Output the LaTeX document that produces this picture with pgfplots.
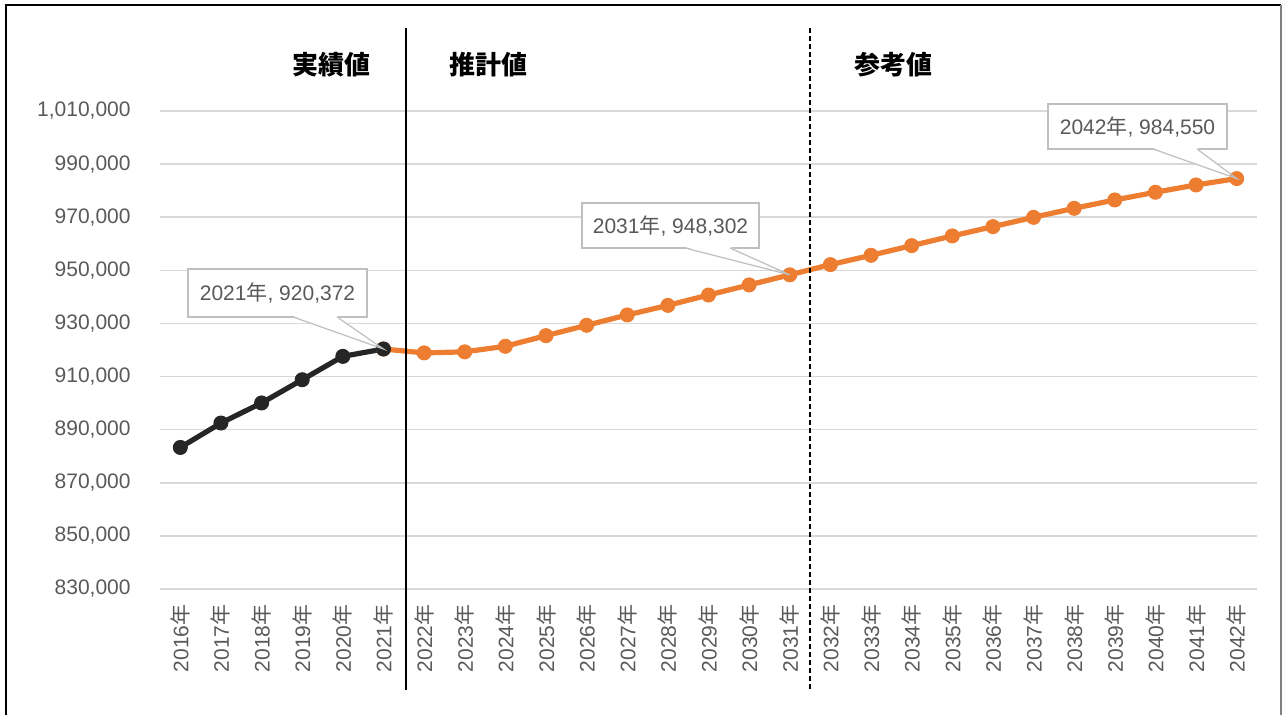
\documentclass[border=0pt]{standalone}
\usepackage{fontspec}
\setmainfont{Liberation Sans}
\newfontfamily\cjk{Noto Sans CJK JP}
\usepackage{pgfplots}
\pgfplotsset{compat=1.18}
\usetikzlibrary{calc}
\definecolor{actual}{HTML}{262626}
\definecolor{forecast}{HTML}{ED7D31}
\definecolor{txtgray}{HTML}{595959}
\definecolor{gridgray}{HTML}{D9D9D9}
\definecolor{callout}{HTML}{BFBFBF}
\newcommand{\nen}{{\cjk 年}}
\newcommand{\lblfont}{\fontsize{10.5}{12}\selectfont}

\begin{document}
\begin{tikzpicture}
\path[use as bounding box] (0,0) rectangle (641.5pt,357.5pt);
\begin{axis}[
  at={(80pt,63pt)}, anchor=south west,
  scale only axis, width=548.5pt, height=239pt,
  xmin=2015.5, xmax=2042.5,
  ymin=830000, ymax=1010000,
  xtick={2016,2017,2018,2019,2020,2021,2022,2023,2024,2025,2026,2027,2028,2029,
         2030,2031,2032,2033,2034,2035,2036,2037,2038,2039,2040,2041,2042},
  xticklabels={2016\nen,2017\nen,2018\nen,2019\nen,2020\nen,2021\nen,2022\nen,
    2023\nen,2024\nen,2025\nen,2026\nen,2027\nen,2028\nen,2029\nen,2030\nen,
    2031\nen,2032\nen,2033\nen,2034\nen,2035\nen,2036\nen,2037\nen,2038\nen,
    2039\nen,2040\nen,2041\nen,2042\nen},
  ytick={830000,850000,870000,890000,910000,930000,950000,970000,990000,1010000},
  yticklabels={{830,000},{850,000},{870,000},{890,000},{910,000},{930,000},
    {950,000},{970,000},{990,000},{1,010,000}},
  scaled y ticks=false,
  axis line style={draw=none},
  major tick length=0pt,
  ymajorgrids,
  major grid style={gridgray, line width=0.75pt},
  clip=false,
  yticklabel style={font=\lblfont, text=txtgray, anchor=east, inner ysep=0pt, inner xsep=14.5pt},
  xticklabel style={font=\lblfont, text=txtgray, rotate=90, anchor=east, inner ysep=0pt, inner xsep=7.5pt},
]
\addplot[forecast, line width=2.6pt, mark=*, mark size=3.5pt,
  mark options={line width=0.5pt, fill=forecast, draw=forecast}] coordinates {
  (2021,920372) (2022,918900) (2023,919300) (2024,921400) (2025,925400)
  (2026,929300) (2027,933200) (2028,936800) (2029,940700) (2030,944500)
  (2031,948302) (2032,952150) (2033,955650) (2034,959300) (2035,962950)
  (2036,966450) (2037,969950) (2038,973350) (2039,976500) (2040,979400)
  (2041,982150) (2042,984550)
};
\addplot[actual, line width=2.6pt, mark=*, mark size=3.5pt,
  mark options={line width=0.5pt, fill=actual, draw=actual}] coordinates {
  (2016,883300) (2017,892500) (2018,900050) (2019,908800) (2020,917600)
  (2021,920372)
};
\coordinate (t1) at (axis cs:2021,920372);
\coordinate (t2) at (axis cs:2031,948302);
\coordinate (t3) at (axis cs:2042,984550);
\end{axis}

\begin{scope}[shift={(0pt,357.5pt)}, x=0.5pt, y=-0.5pt]
  % outer frame
  \draw[black, line width=1pt] (6,715) -- (6,5) -- (1281,5);
  \draw[gray, line width=0.6pt] (1281,5) -- (1281,715);
  % period separators
  \draw[black, line width=0.75pt] (406,28) -- (406,690);
  \draw[black, line width=0.75pt, dash pattern=on 2.5pt off 1.5pt] (810,28) -- (810,690);
  % period headings
  \node[font=\cjk\bfseries\fontsize{13}{15}\selectfont] at (331,65) {実績値};
  \node[font=\cjk\bfseries\fontsize{13}{15}\selectfont] at (488,65) {推計値};
  \node[font=\cjk\bfseries\fontsize{13}{15}\selectfont] at (893,65) {参考値};
  % callouts
  \foreach \xa/\xb/\ya/\yb/\ba/\bb/\tp/\lbl in {
      188/367/269/317/293/337/t1/{2021\nen, 920,372},
      582/759/203/248/685/730/t2/{2031\nen, 948,302},
      1048/1227/104/149/1153/1197/t3/{2042\nen, 984,550}} {
    \draw[callout, fill=white, line width=0.6pt] (\xa,\ya) rectangle (\xb,\yb);
    \fill[white] (\ba,\yb-1) -- ($(\ba,\yb)!0.8!(\tp)$) -- ($(\bb,\yb)!0.8!(\tp)$) -- (\bb,\yb-1) -- cycle;
    \draw[callout, line width=0.6pt] (\ba,\yb) -- (\tp) -- (\bb,\yb);
    \node[text=txtgray, font=\lblfont, inner sep=0pt] at ({(\xa+\xb)/2},{(\ya+\yb)/2}) {\lbl};
  }
\end{scope}
\end{tikzpicture}
\end{document}
